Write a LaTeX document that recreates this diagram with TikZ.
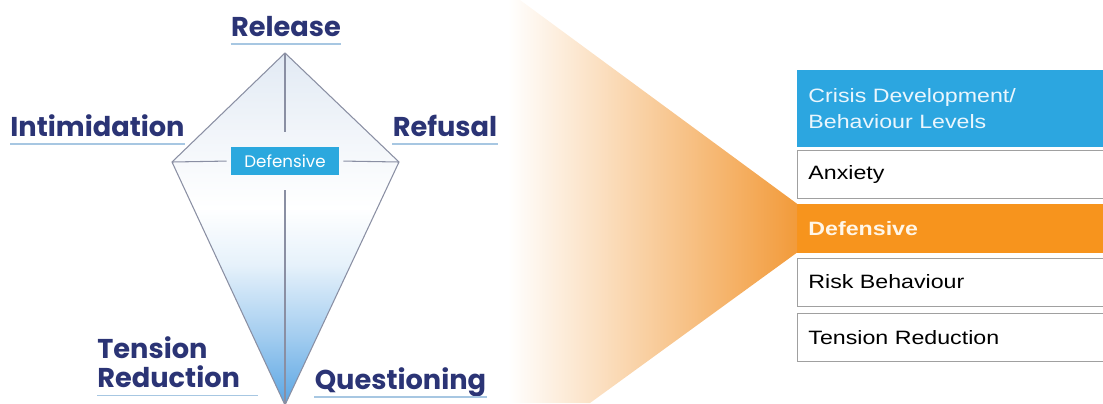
\documentclass[tikz,border=0pt]{standalone}
\usepackage{fontspec}
\setmainfont{Liberation Sans}
\newfontfamily\kitefont{Poppins}
\newfontfamily\tabfont{Liberation Sans}[FakeStretch=1.2]
\usepackage{tikz}
\usetikzlibrary{positioning,calc}

\definecolor{navy}{HTML}{2B3475}
\definecolor{ulinecol}{HTML}{A7C7E2}
\definecolor{kitegray}{HTML}{8A8FA3}
\definecolor{kitetop}{HTML}{E2EAF4}
\definecolor{kiteblue}{HTML}{5AA5E3}
\definecolor{defcyan}{HTML}{2BA8DE}
\definecolor{hdrblue}{HTML}{2CA6E0}
\definecolor{hdrtext}{HTML}{EAF6FD}
\definecolor{deforange}{HTML}{F7941D}
\definecolor{deftext}{HTML}{FFF6E8}
\definecolor{boxgray}{HTML}{A0A0A0}
\definecolor{funorange}{HTML}{F29B3B}
\definecolor{funmid}{HTML}{FBDDB8}

% kite fill: blue at the lower tip, white in the middle, grey-blue on top
\pgfdeclareverticalshading{kiteshade}{100bp}{%
  color(0bp)=(kiteblue); color(25bp)=(kiteblue);
  color(35bp)=(kiteblue!55); color(45bp)=(kiteblue!15);
  color(53bp)=(white); color(62bp)=(kitetop!40);
  color(75bp)=(kitetop); color(100bp)=(kitetop)}

\begin{document}
\begin{tikzpicture}[
    x=0.02cm, y=-0.02cm,
    kitelabel/.style={font=\kitefont\bfseries\fontsize{15.5}{17}\selectfont,
                      text=navy, inner xsep=0pt, inner ysep=4pt, align=left},
    uline/.style    ={draw=ulinecol, line width=0.7pt},
    kiteline/.style ={draw=kitegray, line width=0.6pt},
    defbox/.style   ={fill=defcyan, text=white, inner sep=0pt,
                      minimum width=2.16cm, minimum height=0.56cm,
                      font=\kitefont\fontsize{9.5}{11}\selectfont},
    level/.style    ={draw=boxgray, line width=0.5pt, anchor=north west,
                      minimum width=6.4cm, minimum height=0.96cm,
                      text width=5.96cm, inner xsep=0.22cm, align=left,
                      font=\tabfont\fontsize{11}{14.5}\selectfont}
]
\clip (0,0) rectangle (1103,403);

% --- kite ---
\coordinate (ktop)   at (285,53);
\coordinate (kleft)  at (172,162);
\coordinate (kright) at (399,162);
\coordinate (kbot)   at (285,405);
\shade[shading=kiteshade] (ktop) -- (kright) -- (kbot) -- (kleft) -- cycle;
\draw[kiteline] (ktop) -- (kright) -- (kbot) -- (kleft) -- cycle;

\node[defbox] (kdef) at (285,161) {Defensive};
\draw[kiteline, shorten >=8.5pt] (ktop) -- (kdef.north);
\draw[kiteline, shorten >=8.5pt] (kbot) -- (kdef.south);
\draw[kiteline, shorten >=2.3pt] (kleft) -- (kdef.west);
\draw[kiteline, shorten >=2.3pt] (kright) -- (kdef.east);

% --- kite labels with underlines ---
\node[kitelabel, text depth=0pt, anchor=south] (rel) at (286,44) {Release};
\node[kitelabel, text depth=0pt, anchor=south] (intim) at (97.5,144) {Intimidation};
\node[kitelabel, text depth=0pt, anchor=south] (refus) at (445,144) {Refusal};
\node[kitelabel, anchor=base west, text width=3.2cm] (tred) at (97,358) {Tension\\Reduction};
\node[kitelabel, text depth=0pt, anchor=south] (quest) at (400.5,397) {Questioning};
\foreach \n in {rel,intim,refus,tred,quest}
    \draw[uline] (\n.south west) -- (\n.south east);

% --- levels table ---
\node[level, fill=hdrblue, draw=hdrblue, text=hdrtext, minimum height=1.52cm]
    (hdr) at (797,70) {Crisis Development/\\Behaviour Levels};
\node[level, below=0.06cm of hdr] (anx) {Anxiety};
\node[level, fill=deforange, draw=deforange, text=deftext,
      font=\tabfont\bfseries\fontsize{11}{14.5}\selectfont,
      below=0.1cm of anx] (def) {Defensive};
\node[level, below=0.1cm of def] (risk) {Risk Behaviour};
\node[level, below=0.14cm of risk] (tens) {Tension Reduction};

% --- funnel into the defensive row ---
\shade[left color=white, middle color=funmid, right color=funorange]
    (508,0) -- (520,0) -- (def.north west) -- (def.south west)
    -- (590,403) -- (508,403) -- cycle;

\end{tikzpicture}
\end{document}
